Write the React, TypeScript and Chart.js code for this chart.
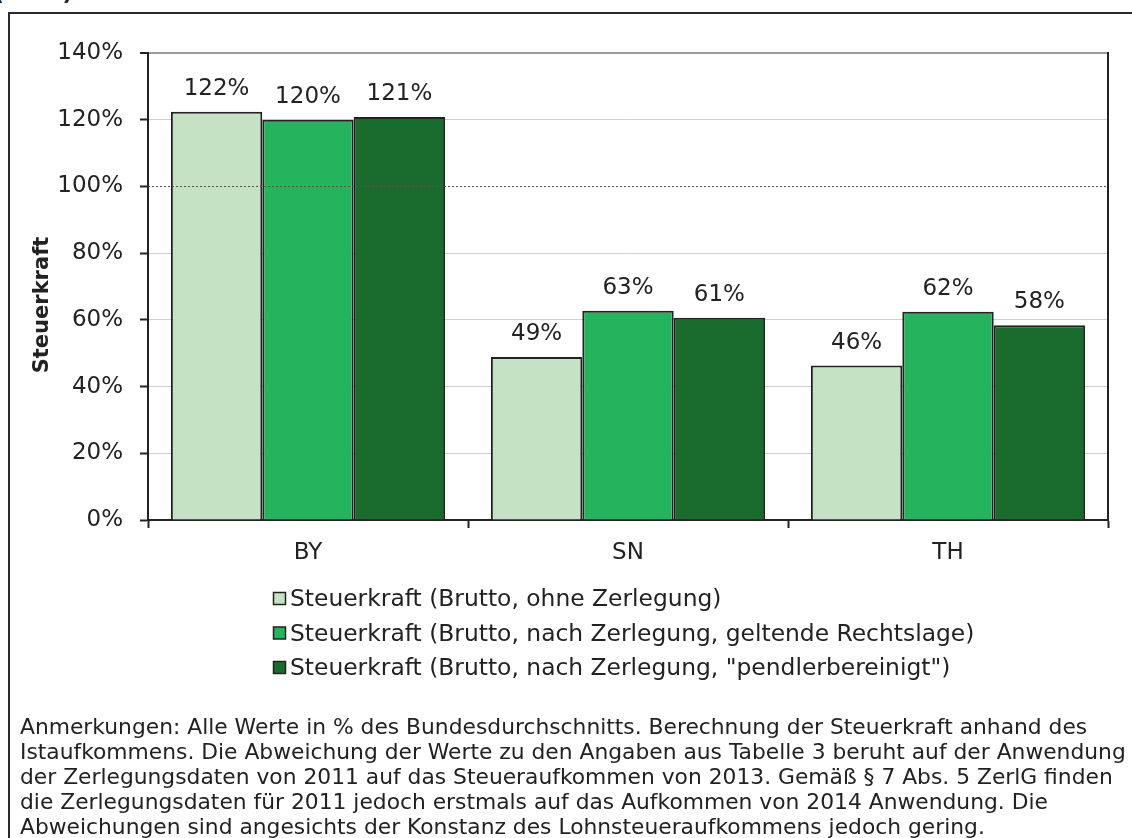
import React, { useEffect, useRef } from "react";
import { Chart, registerables } from "chart.js";

Chart.register(...registerables);

const categories = ["BY", "SN", "TH"];
const seriesNames = [
  "Steuerkraft (Brutto, ohne Zerlegung)",
  "Steuerkraft (Brutto, nach Zerlegung, geltende Rechtslage)",
  'Steuerkraft (Brutto, nach Zerlegung, "pendlerbereinigt")',
];
const bruttoOhneZerlegung = [122.4, 48.9, 46.3];
const nachZerlegungGeltend = [120.0, 62.7, 62.4];
const nachZerlegungPendler = [120.8, 60.6, 58.4];
const seriesColors = ["#c6e2c4", "#26b35e", "#1a6b2e"];
const yTickValues = [0, 20, 40, 60, 80, 100, 120, 140];
const referenceLine = 100;
const yAxisTitle = "Steuerkraft";
const partialTitle = "Zerlegung (2013)";
const noteLines = [
  "Anmerkungen: Alle Werte in % des Bundesdurchschnitts. Berechnung der Steuerkraft anhand des",
  "Istaufkommens. Die Abweichung der Werte zu den Angaben aus Tabelle 3 beruht auf der Anwendung",
  "der Zerlegungsdaten von 2011 auf das Steueraufkommen von 2013. Gemäß § 7 Abs. 5 ZerlG finden",
  "die Zerlegungsdaten für 2011 jedoch erstmals auf das Aufkommen von 2014 Anwendung. Die",
  "Abweichungen sind angesichts der Konstanz des Lohnsteueraufkommens jedoch gering.",
];

const FONT = "'DejaVu Sans', 'Liberation Sans', Arial, sans-serif";
const TEXT = "#222222";

const overlayPlugin = {
  id: "overlay",
  afterDatasetsDraw(chart: any) {
    const { ctx, chartArea, scales } = chart;
    const y = scales.y;
    // dotted 100% line
    const py = Math.round(y.getPixelForValue(referenceLine)) + 0.5;
    ctx.save();
    ctx.strokeStyle = "#555555";
    ctx.lineWidth = 1;
    ctx.setLineDash([2, 2]);
    ctx.beginPath();
    ctx.moveTo(chartArea.left, py);
    ctx.lineTo(chartArea.right, py);
    ctx.stroke();
    ctx.setLineDash([]);
    // right border
    ctx.strokeStyle = TEXT;
    ctx.lineWidth = 2;
    ctx.beginPath();
    ctx.moveTo(chartArea.right, chartArea.top - 1);
    ctx.lineTo(chartArea.right, chartArea.bottom);
    ctx.stroke();
    // data labels
    ctx.fillStyle = TEXT;
    ctx.font = `23px ${FONT}`;
    ctx.textAlign = "center";
    ctx.textBaseline = "alphabetic";
    chart.data.datasets.forEach((ds: any, di: number) => {
      const meta = chart.getDatasetMeta(di);
      meta.data.forEach((bar: any, i: number) => {
        const v = ds.data[i];
        ctx.fillText(Math.round(v) + "%", bar.x, bar.y - 17);
      });
    });
    // y title
    ctx.save();
    ctx.translate(43, 305);
    ctx.rotate(-Math.PI / 2);
    ctx.font = `bold 21px ${FONT}`;
    ctx.textAlign = "center";
    ctx.textBaseline = "middle";
    ctx.fillText(yAxisTitle, 0, 0);
    ctx.restore();
    // legend
    const rows = [599, 633.5, 668];
    chart.data.datasets.forEach((ds: any, di: number) => {
      const cy = rows[di];
      ctx.fillStyle = ds.backgroundColor;
      ctx.fillRect(273.5, cy - 6.5, 12, 12);
      ctx.strokeStyle = TEXT;
      ctx.lineWidth = 1.5;
      ctx.strokeRect(273.5, cy - 6.5, 12, 12);
      ctx.fillStyle = TEXT;
      ctx.font = `23.4px ${FONT}`;
      ctx.textAlign = "left";
      ctx.textBaseline = "middle";
      ctx.fillText(ds.label, 290, cy + 1);
    });
    ctx.restore();
  },
};

export default function App() {
  const canvasRef = useRef<HTMLCanvasElement | null>(null);

  useEffect(() => {
    if (!canvasRef.current) return;
    const datasets = [bruttoOhneZerlegung, nachZerlegungGeltend, nachZerlegungPendler].map(
      (data, i) => ({
        label: seriesNames[i],
        data,
        backgroundColor: seriesColors[i],
        borderColor: TEXT,
        borderWidth: 2,
        categoryPercentage: 0.857,
        barPercentage: 1.0,
      })
    );
    const chart = new Chart(canvasRef.current, {
      type: "bar",
      data: { labels: categories, datasets },
      options: {
        responsive: false,
        animation: false,
        devicePixelRatio: 1,
        layout: { padding: { left: 0, top: 53, right: 24, bottom: 258 } },
        plugins: {
          legend: { display: false },
          tooltip: { enabled: false },
          title: { display: false },
        },
        scales: {
          x: {
            grid: {
              display: true,
              drawOnChartArea: false,
              drawTicks: true,
              tickLength: 8,
              offset: true,
              tickColor: TEXT,
              tickWidth: 2,
            },
            border: { color: TEXT, width: 2 },
            ticks: {
              color: TEXT,
              font: { family: FONT, size: 23 },
              padding: 11,
            },
            afterFit(scale: any) {
              scale.height = 60;
            },
          },
          y: {
            min: 0,
            max: 140,
            afterBuildTicks(scale: any) {
              scale.ticks = yTickValues.map((v) => ({ value: v }));
            },
            grid: {
              color: (c: any) =>
                c.tick && c.tick.value === referenceLine
                  ? "rgba(0,0,0,0)"
                  : c.tick && c.tick.value === 140
                  ? "#9a9a9a"
                  : "#cfcfcf",
              lineWidth: (c: any) => (c.tick && c.tick.value === 140 ? 2 : 1),
              drawTicks: true,
              tickLength: 8,
              tickColor: TEXT,
              tickWidth: 2,
            },
            border: { color: TEXT, width: 2 },
            ticks: {
              color: TEXT,
              font: { family: FONT, size: 23 },
              padding: 17,
              callback: (v: any) => v + "%",
            },
            afterFit(scale: any) {
              scale.width = 148;
            },
          },
        },
      },
      plugins: [overlayPlugin],
    });
    return () => chart.destroy();
  }, []);

  return (
    <div
      style={{
        position: "fixed",
        left: 0,
        top: 0,
        width: 1132,
        height: 838,
        overflow: "hidden",
        background: "#ffffff",
      }}
    >
      <div
        style={{
          position: "absolute",
          right: 1132 - 72,
          top: -17,
          font: `bold 21px ${FONT}`,
          lineHeight: "21px",
          color: TEXT,
          whiteSpace: "nowrap",
        }}
      >
        {partialTitle}
      </div>
      <div
        style={{
          position: "absolute",
          left: 8,
          top: 12,
          width: 1200,
          height: 900,
          borderLeft: "2px solid #2a2a2a",
          borderTop: "2px solid #2a2a2a",
          boxSizing: "border-box",
        }}
      />
      <canvas
        ref={canvasRef}
        width={1132}
        height={838}
        style={{ position: "absolute", left: 0, top: 0, width: 1132, height: 838 }}
      />
      <div
        style={{
          position: "absolute",
          left: 20,
          top: 714,
          font: `21.8px ${FONT}`,
          lineHeight: "25px",
          color: TEXT,
          whiteSpace: "nowrap",
        }}
      >
        {noteLines.map((l, i) => (
          <div key={i}>{l}</div>
        ))}
      </div>
    </div>
  );
}
